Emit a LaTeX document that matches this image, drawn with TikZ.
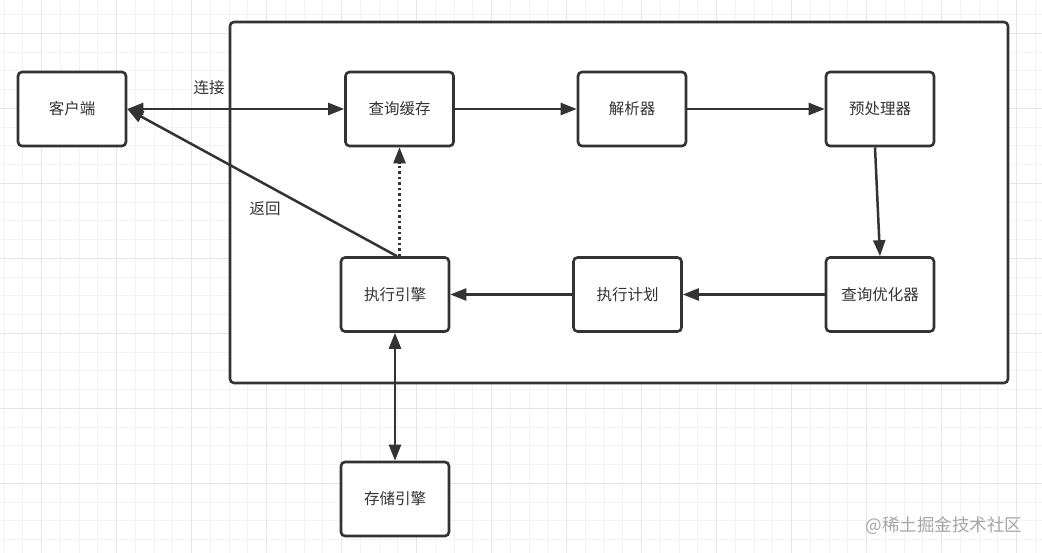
\documentclass[tikz,border=0pt]{standalone}
\usepackage{fontspec}
\usepackage{tikz}
\usetikzlibrary{arrows.meta, positioning, calc}
\newfontfamily\cjk{Noto Sans CJK SC}
\definecolor{linecol}{HTML}{333333}
\definecolor{gridminor}{HTML}{F3F3F3}
\definecolor{gridmajor}{HTML}{E6E6E6}
\definecolor{markcol}{HTML}{A6A6A6}
\tikzset{
  every node/.style={font=\cjk\fontsize{15.5}{18}\selectfont, text=linecol},
  blk/.style={draw=linecol, line width=2.6pt, rounded corners=4pt, fill=white,
    minimum width=108pt, minimum height=74pt, inner sep=0pt},
  link/.style={draw=linecol, line width=2.5pt, -{Triangle[length=16pt,width=12pt]}},
  both/.style={draw=linecol, line width=2.5pt, {Triangle[length=16pt,width=12pt]}-{Triangle[length=16pt,width=12pt]}},
}

\begin{document}
\begin{tikzpicture}[x=1pt, y=-1pt]
    \useasboundingbox (0,0) rectangle (1042,553);
    \fill[white] (0,0) rectangle (1042,553);
    % grid
    \foreach \gx in {0,...,55}
      \draw[gridminor, line width=1pt] ({4.2+18.75*\gx},0) -- ++(0,553);
    \foreach \gy in {-1,...,29}
      \draw[gridminor, line width=1pt] (0,{33.3+18.75*\gy}) -- ++(1042,0);
    \foreach \gx in {0,...,13}
      \draw[gridmajor, line width=1pt] ({41.7+75*\gx},0) -- ++(0,553);
    \foreach \gy in {0,...,7}
      \draw[gridmajor, line width=1pt] (0,{33.3+75*\gy}) -- ++(1042,0);

    \draw[linecol, line width=2.6pt, rounded corners=4pt, fill=white] (230,22) rectangle (1008,383);

    \node[blk] (client) at (72,109) {客户端};
    \node[blk] (cache) at (399.5,109) {查询缓存};
    \node[blk] (parser) at (632,109) {解析器};
    \node[blk] (prep) at (880,109) {预处理器};
    \node[blk] (optim) at (880,294.5) {查询优化器};
    \node[blk] (plan) at (627.5,294.5) {执行计划};
    \node[blk] (exec) at (395,294.5) {执行引擎};
    \node[blk] (store) at (395,499) {存储引擎};

    \draw[both] (client) -- (cache);
    \draw[link] (cache) -- (parser);
    \draw[link] (parser) -- (prep);
    \draw[link] ([xshift=-5pt]prep.south) -- (optim.north);
    \draw[link] (optim) -- (plan);
    \draw[link] (plan) -- (exec);
    \draw[link, dash pattern=on 2.5pt off 3pt] (exec.north -| cache.south) -- (cache.south);
    \draw[link] ([xshift=2pt]exec.north) -- (client.east);
    \draw[both] (exec) -- (store);

    \node (connect) at (209,88) {连接};
    \node (back) at (265,209) {返回};
    \node[text=markcol, font=\cjk\fontsize{17.5}{20}\selectfont] (wm) at (944,526) {@稀土掘金技术社区};
  \end{tikzpicture}
\end{document}
